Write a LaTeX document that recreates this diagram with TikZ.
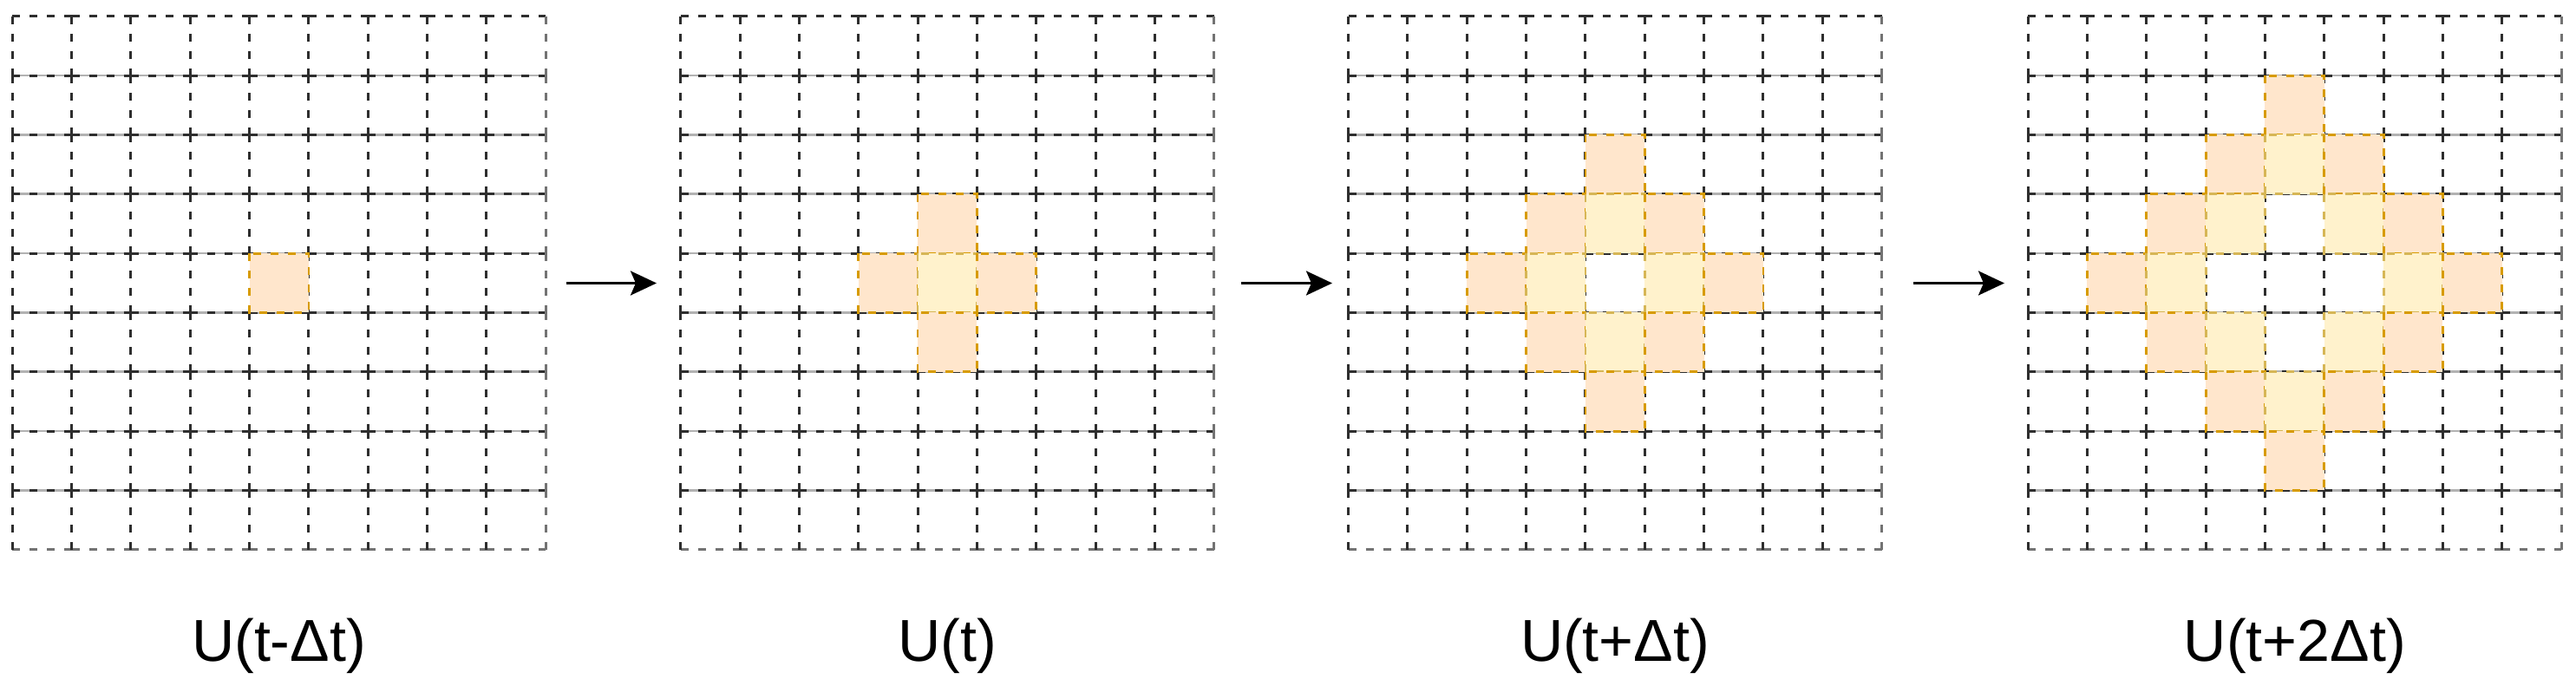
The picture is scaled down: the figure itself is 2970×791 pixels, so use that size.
\documentclass[tikz,border=0pt]{standalone}
\usepackage{fontspec}
\setmainfont{Liberation Sans}
\usetikzlibrary{arrows.meta}
\definecolor{orfill}{HTML}{FFE6CC}
\definecolor{orline}{HTML}{D79B00}
\definecolor{yefill}{HTML}{FFF2CC}
\definecolor{yeline}{HTML}{D6B656}
\definecolor{gridline}{HTML}{2E2E2E}
\tikzset{
  cellseg/.style={draw=gridline, line width=0.03cm, dash pattern=on 0.09cm off 0.11cm},
  cellsegl/.style={draw=black!55, line width=0.03cm, dash pattern=on 0.09cm off 0.11cm},
  hbase/.style={draw=black!30, line width=0.026cm},
  ocell/.style={fill=orfill, draw=orline, line width=0.028cm, dash pattern=on 0.09cm off 0.11cm},
  ycell/.style={fill=yefill, draw=yeline, line width=0.028cm, dash pattern=on 0.09cm off 0.11cm},
  flowarrow/.style={draw=black, line width=0.03cm, -{Stealth[length=0.30cm,width=0.28cm,inset=0.06cm]}},
  steplabel/.style={font=\fontsize{19.4pt}{23pt}\selectfont, anchor=base, inner sep=0pt}
}
\newcommand\drawgrid[1]{%
  \foreach \j in {1,...,8} \draw[hbase] (#1, 18.8+\j*68.33) -- ++(615,0);
  \foreach \i in {0,...,8} {\foreach \j in {0,...,8} {\draw[cellseg] (#1+\i*68.33, 18.8+\j*68.33) -- ++(68.33,0);}}
  \foreach \i in {0,...,8} \draw[cellsegl] (#1+\i*68.33, 633.77) -- ++(68.33,0);
  \foreach \i in {0,...,8} {\foreach \j in {0,...,8} {\draw[cellseg] (#1+\i*68.33, 18.8+\j*68.33) -- ++(0,68.33);}}
  \foreach \j in {0,...,8} \draw[cellsegl] (#1+615, 18.8+\j*68.33) -- ++(0,68.33);
}
\newcommand\paintcell[4]{\path[#4] (#1+#2*68.33-68.33, 18.8+#3*68.33-68.33) rectangle ++(68.33,68.33);}
\begin{document}
\begin{tikzpicture}[x=0.01cm,y=-0.01cm]
\useasboundingbox[fill=white] (0,0) rectangle (2970,791);
% grid origins
\coordinate (g1) at (14.3,18.8);
\coordinate (g2) at (784.7,18.8);
\coordinate (g3) at (1554.6,18.8);
\coordinate (g4) at (2338.1,18.8);
\drawgrid{14.3}
\drawgrid{784.7}
\drawgrid{1554.6}
\drawgrid{2338.1}
% grid 1
\paintcell{14.3}{5}{5}{ocell}
% grid 2
\paintcell{784.7}{5}{4}{ocell}
\paintcell{784.7}{4}{5}{ocell}
\paintcell{784.7}{5}{5}{ycell}
\paintcell{784.7}{6}{5}{ocell}
\paintcell{784.7}{5}{6}{ocell}
% grid 3
\paintcell{1554.6}{5}{3}{ocell}
\paintcell{1554.6}{4}{4}{ocell}
\paintcell{1554.6}{5}{4}{ycell}
\paintcell{1554.6}{6}{4}{ocell}
\paintcell{1554.6}{3}{5}{ocell}
\paintcell{1554.6}{4}{5}{ycell}
\paintcell{1554.6}{6}{5}{ycell}
\paintcell{1554.6}{7}{5}{ocell}
\paintcell{1554.6}{4}{6}{ocell}
\paintcell{1554.6}{5}{6}{ycell}
\paintcell{1554.6}{6}{6}{ocell}
\paintcell{1554.6}{5}{7}{ocell}
% grid 4
\paintcell{2338.1}{5}{2}{ocell}
\paintcell{2338.1}{4}{3}{ocell}
\paintcell{2338.1}{5}{3}{ycell}
\paintcell{2338.1}{6}{3}{ocell}
\paintcell{2338.1}{3}{4}{ocell}
\paintcell{2338.1}{4}{4}{ycell}
\paintcell{2338.1}{6}{4}{ycell}
\paintcell{2338.1}{7}{4}{ocell}
\paintcell{2338.1}{2}{5}{ocell}
\paintcell{2338.1}{3}{5}{ycell}
\paintcell{2338.1}{7}{5}{ycell}
\paintcell{2338.1}{8}{5}{ocell}
\paintcell{2338.1}{3}{6}{ocell}
\paintcell{2338.1}{4}{6}{ycell}
\paintcell{2338.1}{6}{6}{ycell}
\paintcell{2338.1}{7}{6}{ocell}
\paintcell{2338.1}{4}{7}{ocell}
\paintcell{2338.1}{5}{7}{ycell}
\paintcell{2338.1}{6}{7}{ocell}
\paintcell{2338.1}{5}{8}{ocell}
% arrows
\coordinate (a1s) at (652.7,326.5);
\coordinate (a1e) at (757,326.5);
\coordinate (a2s) at (1431,326.5);
\coordinate (a2e) at (1536,326.5);
\coordinate (a3s) at (2206,326.5);
\coordinate (a3e) at (2311,326.5);
\draw[flowarrow] (a1s) -- (a1e);
\draw[flowarrow] (a2s) -- (a2e);
\draw[flowarrow] (a3s) -- (a3e);
% labels
\node[steplabel] (l1) at (321.5,762) {U(t-Δt)};
\node[steplabel] (l2) at (1092,762) {U(t)};
\node[steplabel] (l3) at (1862,762) {U(t+Δt)};
\node[steplabel] (l4) at (2645.7,762) {U(t+2Δt)};
\end{tikzpicture}
\end{document}
